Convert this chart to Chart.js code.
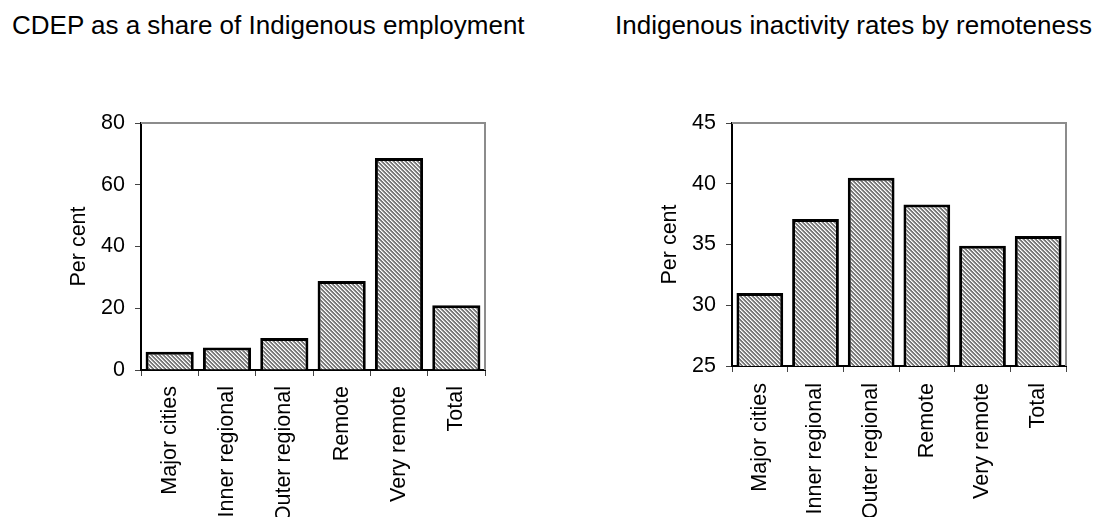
<!DOCTYPE html>
<html>
<head>
<meta charset="utf-8">
<script src="https://cdn.jsdelivr.net/npm/chart.js@4"></script>
<style>
  body { margin: 0; background: #fff; overflow: hidden; width: 1104px; height: 517px; position: relative; }
  .title { position: absolute; top: 12px; font: 26px "Liberation Sans", Arial, sans-serif; line-height: 26px; color: #000; white-space: nowrap; }
  canvas { position: absolute; top: 0; }
</style>
</head>
<body>
<div class="title" style="left:12px">CDEP as a share of Indigenous employment</div>
<div class="title" style="left:615px">Indigenous inactivity rates by remoteness</div>
<canvas id="cdepChart" width="552" height="580" style="left:0"></canvas>
<canvas id="inactChart" width="552" height="580" style="left:552px"></canvas>
<script>
// categories and values
let categories = ["Major cities", "Inner regional", "Outer regional", "Remote", "Very remote", "Total"];
let cdepShare = [5.9, 7.3, 10.4, 28.8, 68.7, 21.0];
let inactivityRate = [31.0, 37.1, 40.5, 38.3, 34.9, 35.7];
let cdepTicks = [0, 20, 40, 60, 80];
let inactTicks = [25, 30, 35, 40, 45];

const FONT = "'Liberation Sans', Arial, sans-serif";

// diagonal hatch fill like the old excel pattern
function hatch() {
  let shades = ["#7a7a7a", "#7a7a7a", "#ffffff", "#c4c4c4"];
  let c = document.createElement("canvas");
  c.width = 4;
  c.height = 4;
  let g = c.getContext("2d");
  for (let x = 0; x < 4; x++) {
    for (let y = 0; y < 4; y++) {
      g.fillStyle = shades[(((x - y) % 4) + 4) % 4];
      g.fillRect(x, y, 1, 1);
    }
  }
  return g.createPattern(c, "repeat");
}

// gray frame on top and right of the plot area
const frame = {
  id: "frame",
  afterDraw(chart) {
    let a = chart.chartArea;
    let ctx = chart.ctx;
    ctx.save();
    ctx.strokeStyle = "#8c8c8c";
    ctx.lineWidth = 2;
    ctx.beginPath();
    ctx.moveTo(a.left, a.top);
    ctx.lineTo(a.right, a.top);
    ctx.lineTo(a.right, a.bottom);
    ctx.stroke();
    ctx.restore();
  },
};

function makeChart(id, values, ticks, box) {
  let ctx = document.getElementById(id).getContext("2d");
  return new Chart(ctx, {
    type: "bar",
    data: {
      labels: categories,
      datasets: [
        {
          data: values,
          backgroundColor: hatch(),
          borderColor: "#000",
          borderWidth: 3,
          barPercentage: 0.84,
          categoryPercentage: 1,
        },
      ],
    },
    plugins: [frame],
    options: {
      responsive: false,
      devicePixelRatio: 1,
      animation: false,
      layout: { padding: { top: box.top, right: box.right, bottom: 0, left: 0 } },
      plugins: { legend: { display: false }, tooltip: { enabled: false } },
      scales: {
        x: {
          afterFit: (s) => { s.height = box.xHeight; },
          grid: { offset: true, drawOnChartArea: false, tickLength: 6, color: "#444" },
          border: { color: "#000", width: 2 },
          ticks: {
            maxRotation: 90, minRotation: 90, autoSkip: false, padding: box.labelPad,
            color: "#000", font: { family: FONT, size: 21.5 },
          },
        },
        y: {
          min: ticks[0],
          max: ticks[ticks.length - 1],
          afterFit: (s) => { s.width = box.yWidth; },
          afterBuildTicks: (s) => { s.ticks = ticks.map((v) => ({ value: v })); },
          grid: { drawOnChartArea: false, tickLength: 6, color: "#444" },
          border: { color: "#000", width: 2 },
          ticks: { padding: 10, color: "#000", font: { family: FONT, size: 21.5 } },
          title: {
            display: true, text: "Per cent", color: "#000",
            font: { family: FONT, size: 21.5 }, padding: box.titlePad,
          },
        },
      },
    },
  });
}

makeChart("cdepChart", cdepShare, cdepTicks, { top: 123, right: 67, xHeight: 210, yWidth: 141, titlePad: 66, labelPad: 10 });
makeChart("inactChart", inactivityRate, inactTicks, { top: 123, right: 38, xHeight: 214, yWidth: 180, titlePad: 105, labelPad: 11 });
</script>
</body>
</html>
